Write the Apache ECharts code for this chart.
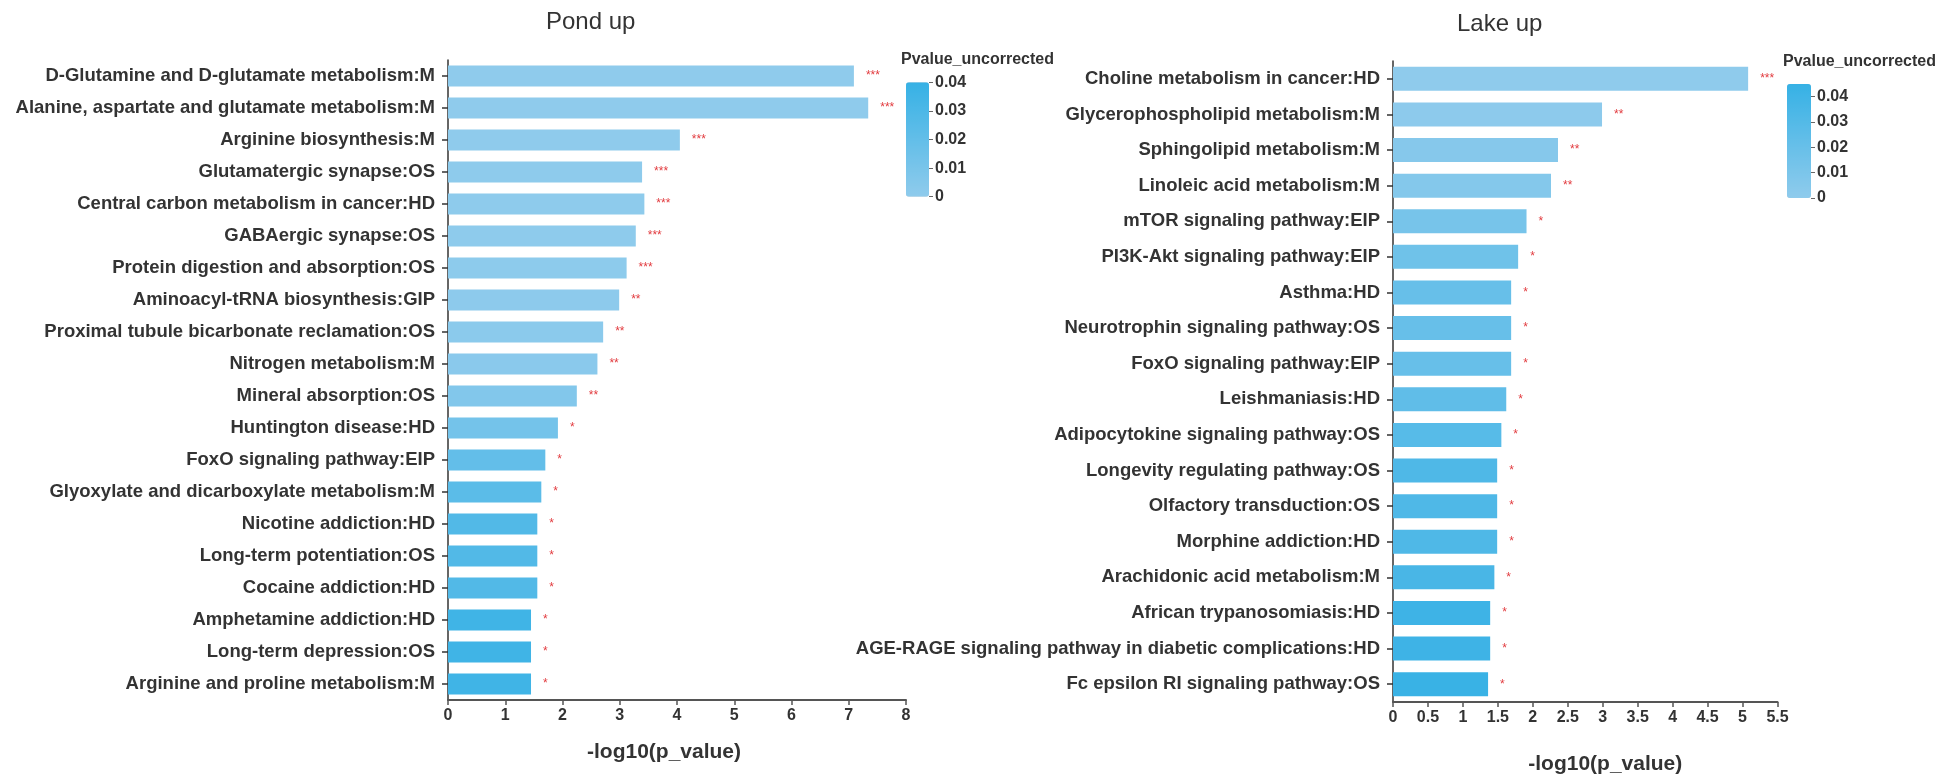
<!DOCTYPE html>
<html>
<head>
<meta charset="utf-8">
<script src="https://cdn.jsdelivr.net/npm/echarts@6/dist/echarts.min.js"></script>
<style>
  html, body { margin: 0; padding: 0; background: #ffffff; }
  #chart { width: 1957px; height: 776px; }
</style>
</head>
<body>
<div id="chart"></div>
<script>
// Enriched pathways, ordered top to bottom, with -log10(p) per pathway
const pondPathways = [
  'D-Glutamine and D-glutamate metabolism:M',
  'Alanine, aspartate and glutamate metabolism:M',
  'Arginine biosynthesis:M',
  'Glutamatergic synapse:OS',
  'Central carbon metabolism in cancer:HD',
  'GABAergic synapse:OS',
  'Protein digestion and absorption:OS',
  'Aminoacyl-tRNA biosynthesis:GIP',
  'Proximal tubule bicarbonate reclamation:OS',
  'Nitrogen metabolism:M',
  'Mineral absorption:OS',
  'Huntington disease:HD',
  'FoxO signaling pathway:EIP',
  'Glyoxylate and dicarboxylate metabolism:M',
  'Nicotine addiction:HD',
  'Long-term potentiation:OS',
  'Cocaine addiction:HD',
  'Amphetamine addiction:HD',
  'Long-term depression:OS',
  'Arginine and proline metabolism:M'
];
const pondLogP = [7.09, 7.34, 4.05, 3.39, 3.43, 3.28, 3.12, 2.99, 2.71, 2.61,
                  2.25, 1.92, 1.70, 1.63, 1.56, 1.56, 1.56, 1.45, 1.45, 1.45];

const lakePathways = [
  'Choline metabolism in cancer:HD',
  'Glycerophospholipid metabolism:M',
  'Sphingolipid metabolism:M',
  'Linoleic acid metabolism:M',
  'mTOR signaling pathway:EIP',
  'PI3K-Akt signaling pathway:EIP',
  'Asthma:HD',
  'Neurotrophin signaling pathway:OS',
  'FoxO signaling pathway:EIP',
  'Leishmaniasis:HD',
  'Adipocytokine signaling pathway:OS',
  'Longevity regulating pathway:OS',
  'Olfactory transduction:OS',
  'Morphine addiction:HD',
  'Arachidonic acid metabolism:M',
  'African trypanosomiasis:HD',
  'AGE-RAGE signaling pathway in diabetic complications:HD',
  'Fc epsilon RI signaling pathway:OS'
];
const lakeLogP = [5.08, 2.99, 2.36, 2.26, 1.91, 1.79, 1.69, 1.69, 1.69, 1.62,
                  1.55, 1.49, 1.49, 1.49, 1.45, 1.39, 1.39, 1.36];

// Colour-scale ticks (uncorrected p value)
const pScaleTicks = [0, 0.01, 0.02, 0.03, 0.04];
const pondScaleMax = 0.04;
const lakeScaleMax = 0.045;

const FONT = '"Liberation Sans", Arial, Helvetica, sans-serif';
const TEXT = '#333333';
const LOW = '#8fcbec';
const HIGH = '#36b1e5';

// [ -log10(p), pathway, p ]
function rows(names, logp) {
  return names.map((n, i) => [logp[i], n, Math.pow(10, -logp[i])]);
}
function stars(params) {
  const p = params.data[2];
  return p < 0.001 ? '***' : p < 0.01 ? '**' : '*';
}

const panels = [
  { grid: { left: 448, top: 60, width: 458, height: 640, outerBoundsMode: 'none' }, max: 8, interval: 1,
    names: pondPathways, data: rows(pondPathways, pondLogP), barWidth: 21,
    nameGap: 42, namePad: [0, 26, 0, 0] },
  { grid: { left: 1393, top: 61, width: 384.5, height: 641, outerBoundsMode: 'none' }, max: 5.5, interval: 0.5,
    names: lakePathways, data: rows(lakePathways, lakeLogP), barWidth: 24,
    nameGap: 52, namePad: [0, 0, 0, 40] }
];
const scales = [
  { grid: { left: 906, top: 82.3, width: 23, height: 114.4, outerBoundsMode: 'none' }, max: pondScaleMax },
  { grid: { left: 1787, top: 84, width: 24, height: 114, outerBoundsMode: 'none' }, max: lakeScaleMax }
];

const option = {
  backgroundColor: '#ffffff',
  animation: false,
  textStyle: { fontFamily: FONT },
  title: [
    { text: 'Pond up', left: 546, top: 10, padding: 0,
      textStyle: { fontFamily: FONT, fontSize: 24, fontWeight: 'normal', color: TEXT } },
    { text: 'Lake up', left: 1457, top: 12, padding: 0,
      textStyle: { fontFamily: FONT, fontSize: 24, fontWeight: 'normal', color: TEXT } },
    { text: 'Pvalue_uncorrected', left: 901, top: 52, padding: 0,
      textStyle: { fontFamily: FONT, fontSize: 16, fontWeight: 'bold', color: TEXT } },
    { text: 'Pvalue_uncorrected', left: 1783, top: 54, padding: 0,
      textStyle: { fontFamily: FONT, fontSize: 16, fontWeight: 'bold', color: TEXT } }
  ],
  grid: panels.map(p => p.grid).concat(scales.map(s => s.grid)),
  xAxis: panels.map((p, i) => ({
    type: 'value', gridIndex: i, min: 0, max: p.max, interval: p.interval,
    name: '-log10(p_value)', nameLocation: 'middle', nameGap: p.nameGap,
    nameTextStyle: { fontFamily: FONT, fontSize: 21, fontWeight: 'bold', color: TEXT, padding: p.namePad },
    splitLine: { show: false },
    axisLine: { show: true, lineStyle: { color: '#555555', width: 2 } },
    axisTick: { show: true, length: 5, lineStyle: { color: '#555555', width: 1.5 } },
    axisLabel: { fontFamily: FONT, fontSize: 16, fontWeight: 'bold', color: TEXT, margin: 8 }
  })).concat(scales.map((s, i) => ({
    type: 'category', gridIndex: 2 + i, show: false, data: ['']
  }))),
  yAxis: panels.map((p, i) => ({
    type: 'category', gridIndex: i, data: p.names, inverse: true,
    axisLine: { show: true, lineStyle: { color: '#333333', width: 1.5 } },
    axisTick: { show: true, alignWithLabel: true, length: 6, lineStyle: { color: '#333333', width: 1.5 } },
    axisLabel: { fontFamily: FONT, fontSize: 18.5, fontWeight: 'bold', color: TEXT, margin: 13 }
  })).concat(scales.map((s, i) => ({
    type: 'value', gridIndex: 2 + i, position: 'right', min: 0, max: s.max,
    splitLine: { show: false },
    axisLine: { show: false },
    axisTick: { show: true, length: 4, customValues: pScaleTicks, lineStyle: { color: '#666666', width: 1 } },
    axisLabel: { fontFamily: FONT, fontSize: 16, fontWeight: 'bold', color: TEXT, margin: 6,
                 customValues: pScaleTicks, formatter: v => String(v) }
  }))),
  visualMap: scales.map((s, i) => ({
    type: 'continuous', seriesIndex: i, dimension: 2, min: 0, max: s.max,
    inRange: { color: [LOW, HIGH] },
    left: s.grid.left, top: s.grid.top, itemWidth: s.grid.width, itemHeight: s.grid.height,
    padding: 0, calculable: false, hoverLink: false, text: null, orient: 'vertical'
  })),
  series: panels.map((p, i) => ({
    type: 'bar', xAxisIndex: i, yAxisIndex: i, data: p.data,
    encode: { x: 0, y: 1 }, barWidth: p.barWidth,
    label: { show: true, position: 'right', distance: 12, formatter: stars,
             fontFamily: FONT, fontSize: 12, color: '#e23b3f' }
  }))
};

const chart = echarts.init(document.getElementById('chart'), null, { renderer: 'canvas' });
chart.setOption(option);
</script>
</body>
</html>
